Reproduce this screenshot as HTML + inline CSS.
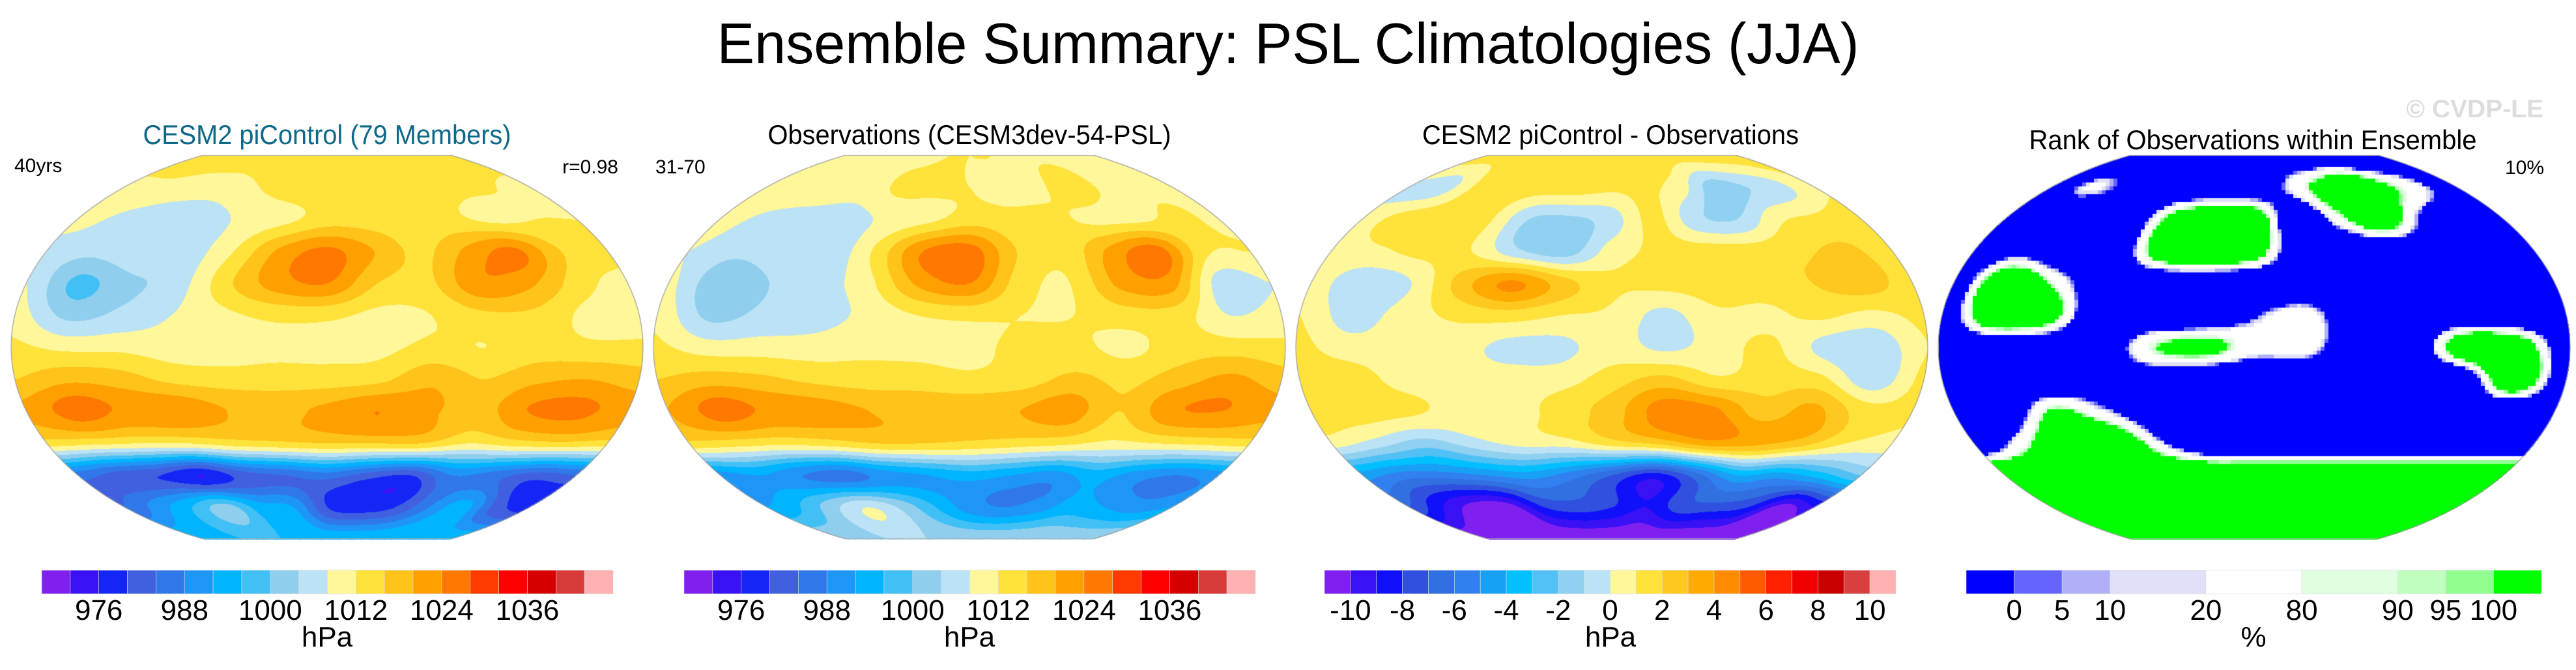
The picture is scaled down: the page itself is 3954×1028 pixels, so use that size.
<!DOCTYPE html>
<html><head><meta charset="utf-8">
<style>
html,body{margin:0;padding:0;background:#fff;}
#wrap{position:relative;width:3954px;height:1028px;overflow:hidden;font-family:"Liberation Sans",Arial,sans-serif;}
canvas,svg{position:absolute;left:0;top:0;}
</style></head>
<body>
<div id="wrap">
<canvas id="maps" width="3954" height="1028"></canvas>
<svg id="ov" width="3954" height="1028" xmlns="http://www.w3.org/2000/svg">
<text x="1977" y="97" text-anchor="middle" font-size="88" textLength="1753" lengthAdjust="spacingAndGlyphs" fill="#000">Ensemble Summary: PSL Climatologies (JJA)</text>
<text x="3904" y="180" text-anchor="end" font-size="39" font-weight="bold" fill="#dddddd">© CVDP-LE</text>
<text x="502" y="221" text-anchor="middle" font-size="42" textLength="565" lengthAdjust="spacingAndGlyphs" fill="#0e6888">CESM2 piControl (79 Members)</text>
<text x="22" y="264" font-size="30" fill="#000">40yrs</text>
<text x="949" y="266" text-anchor="end" font-size="30" fill="#000">r=0.98</text>
<text x="1488" y="221" text-anchor="middle" font-size="42" textLength="619" lengthAdjust="spacingAndGlyphs" fill="#000">Observations (CESM3dev-54-PSL)</text>
<text x="1006" y="266" font-size="30" fill="#000">31-70</text>
<text x="2472" y="221" text-anchor="middle" font-size="42" textLength="578" lengthAdjust="spacingAndGlyphs" fill="#000">CESM2 piControl - Observations</text>
<text x="3458" y="229" text-anchor="middle" font-size="42" textLength="687" lengthAdjust="spacingAndGlyphs" fill="#000">Rank of Observations within Ensemble</text>
<text x="3905" y="267" text-anchor="end" font-size="30" fill="#000">10%</text>
<g id="cbars"></g>
</svg>
</div>
<script>
// ---- data grids (rows: lat 90N..90S every 15deg; cols: 30E eastward every 30deg) ----
const modelGrid = [
[1014,1014,1014,1014,1014,1014,1014,1014,1014,1014,1014,1014,1014],
[1011,1011,1010,1010,1012,1014,1014,1014,1013,1014,1013,1012,1011],
[1010,1007,1006,1006,1009,1011,1014,1014,1013,1013,1011,1012,1012],
[1006,1005,1007,1006,1012,1021,1025,1020,1015,1021,1025,1016,1014],
[1008,999,1003,1006,1015,1022,1024,1016,1015,1023,1021,1014,1010],
[1010,1003,1005,1008,1011,1013,1013,1011,1012,1015,1015,1011,1010],
[1013,1011,1011,1010,1010,1011,1011,1011,1013,1012,1014,1013,1013],
[1016,1019,1018,1015,1014,1014,1014,1015,1019,1016,1019,1020,1018],
[1021,1026,1023,1023,1020,1019,1021,1024,1021,1018,1024,1025,1022],
[1014,1013,1012,1012,1014,1015,1016,1016,1016,1012,1014,1015,1014],
[986,982,980,976,982,984,986,982,980,988,986,982,984],
[984,990,996,1002,994,992,980,978,980,988,994,982,978],
[996,996,996,996,996,996,996,996,996,996,996,996,996]
];
const obsGrid = [
[1011,1011,1011,1011,1011,1012,1012,1012,1011,1011,1011,1011,1011],
[1011,1011,1011,1010,1013,1013,1012,1011,1011,1015,1011,1011,1011],
[1010,1007,1006,1006,1009,1011,1014,1013,1013,1011,1011,1013,1011],
[1008,1005,1006,1005,1013,1024,1026,1016,1013,1021,1026,1013,1012],
[1009,1001,1004,1006,1011,1021,1024,1014,1012,1021,1022,1006,1008],
[1011,1003,1005,1006,1009,1012,1013,1012,1012,1014,1014,1008,1010],
[1013,1010,1010,1010,1011,1011,1011,1013,1013,1011,1014,1014,1013],
[1016,1018,1017,1015,1014,1014,1013,1014,1017,1015,1018,1021,1018],
[1020,1026,1023,1022,1020,1019,1019,1020,1022,1016,1023,1024,1021],
[1015,1014,1013,1014,1016,1016,1015,1014,1013,1011,1012,1013,1014],
[990,992,988,986,990,992,994,992,990,994,990,988,990],
[992,996,1003,1008,1003,996,990,988,990,994,992,990,992],
[1004,1004,1004,1004,1004,1004,1004,1004,1004,1004,1004,1004,1004]
];
const diffGrid = [
[1.5,1.5,1.5,1.5,1.5,1.5,1.5,1.5,1.5,1.5,1.5,1.5,1.5],
[-0.3,-0.5,1.2,1.5,1.5,1.5,1.2,1.2,0.5,-1.5,-1,-0.3,0.8],
[0.5,1.5,1.5,1.2,-1,-1.2,-0.5,1.3,-0.7,-1,0.8,1.3,1.8],
[0.5,0.8,1.3,1.0,-0.8,-1.5,0.5,1.2,1.5,1.5,1.8,2.2,1.5],
[0.5,-0.7,0,2.5,4.2,2.5,1.2,1.3,1.5,1.5,2.0,2.5,1.5],
[1,-0.5,0.5,1.2,1.5,1.0,0.8,-0.3,0.8,0.8,1.2,0.7,1.3],
[1.3,0.5,0.5,0.5,-0.3,-0.3,0.5,-0.2,0.5,1.2,-0.3,-0.8,1.0],
[1.3,1.5,0.6,0.5,0.5,0.6,1.5,2.3,1.2,1.5,1.3,-0.7,1.3],
[1.3,1.5,1.2,0.5,0.5,1.5,2.5,4.5,4.3,2.5,3.3,1.5,1.2],
[0.5,-0.5,-1.5,-0.5,0.3,0.5,1.5,2.2,3.5,3.3,2.5,1.0,0.5],
[-4.5,-5.5,-5.5,-5,-4.5,-5.5,-7,-8.5,-6.5,-4,-4.5,-3.5,-2],
[-7,-9,-10.5,-10.5,-8,-7.5,-8,-9,-7.5,-7.5,-8,-10.5,-9],
[-11,-11,-11,-11,-11,-11,-11,-11,-11,-11,-11,-11,-11]
];
const rankGrid = [
[-5,-5,-5,-5,-5,-5,-5,-5,-5,-5,-5,-5,-5],
[-5,40,30,-5,-5,-5,-5,40,80,110,70,40,-5],
[-5,-5,-5,-5,80,110,100,-5,50,100,30,-5,-5],
[-5,20,-5,-5,90,110,90,-5,-5,-5,-5,-5,-5],
[-5,110,60,-5,-5,-5,-5,-5,-5,-5,-5,-5,-5],
[-5,110,90,-5,-5,-5,30,50,-5,-5,-5,-5,-5],
[-5,-5,-5,-5,60,80,50,50,-5,-5,100,100,-5],
[-5,-5,-5,10,8,-5,-5,-5,-5,-5,-5,110,-5],
[-5,-5,70,40,5,-5,-5,-5,-5,-5,-5,-5,-5],
[-5,50,110,110,40,-5,-5,-5,-5,-5,-5,-5,-5],
[110,110,110,110,110,110,110,110,110,110,110,110,110],
[110,110,110,110,110,110,110,110,110,110,110,110,110],
[110,110,110,110,110,110,110,110,110,110,110,110,110]
];
// ---- colour scales / tick labels ----
const pslColors = ["#8020ee","#3a10f5","#1525f5","#4060e0","#3078ea","#1e96f8","#00b4ff","#40c0f5","#90ceee","#bce2f5","#fff799","#ffe23a","#ffc31a","#ffa000","#ff7800","#ff3a00","#ff0000","#d60000","#d83a3a","#ffb0b0"];
const pslLabels = [976,988,1000,1012,1024,1036];
const diffColors = ["#8020f0","#3a10f5","#1010fa","#3050e0","#3070e0","#3080f0","#18a0f5","#00c0ff","#50c0f5","#90d0f0","#bce2f5","#fff799","#ffe23a","#ffc81e","#ffaa00","#ff8c00","#ff5a00","#ff2000","#f00000","#c80000","#d84040","#ffb0b0"];
const diffLabels = [-10,-8,-6,-4,-2,0,2,4,6,8,10];
const rankColors = ["#0000ff","#6464ff","#b0b0f8","#e0e0f8","#ffffff","#e0ffe0","#c0ffc0","#90ff90","#00ff00"];
const rankLabels = [0,5,10,20,80,90,95,100];
const rankBoxUnits = [1,1,1,2,2,2,1,1,1];

function pslIndex(v){return Math.max(0,Math.min(19,Math.floor((v-972)/4)+1));}
function diffIndex(v){return Math.max(0,Math.min(21,Math.floor(v+10)+1));}
function rankIndex(v){v=50+(v-50)*3;let i=0;for(const b of rankLabels){if(v>=b)i++;}return i;}

function hex(c){return [parseInt(c.substr(1,2),16),parseInt(c.substr(3,2),16),parseInt(c.substr(5,2),16)];}
function cr(p0,p1,p2,p3,t){return 0.5*((2*p1)+(-p0+p2)*t+(2*p0-5*p1+4*p2-p3)*t*t+(-p0+3*p1-3*p2+p3)*t*t*t);}
function sample(g,gx,gy){
  const n=12;const ix=Math.min(n-1,Math.floor(gx)),iy=Math.min(n-1,Math.floor(gy));
  const tx=gx-ix,ty=gy-iy;const rows=[];
  for(let j=-1;j<=2;j++){const r=g[Math.max(0,Math.min(n,iy+j))];
    const c=k=>r[Math.max(0,Math.min(n,ix+k))];
    rows.push(cr(c(-1),c(0),c(1),c(2),tx));}
  return cr(rows[0],rows[1],rows[2],rows[3],ty);
}
const cv=document.getElementById('maps');const ctx=cv.getContext('2d');
const img=ctx.createImageData(3954,1028);const D=img.data;
const panels=[
 {g:modelGrid,cols:pslColors.map(hex),idx:pslIndex,pix:1},
 {g:obsGrid,cols:pslColors.map(hex),idx:pslIndex,pix:1},
 {g:diffGrid,cols:diffColors.map(hex),idx:diffIndex,pix:1},
 {g:rankGrid,cols:rankColors.map(hex),idx:rankIndex,pix:6}
];
const CY=532.5,RX=485,RY=320,TOP=238,BOT=827;
panels.forEach((p,k)=>{
  const cx=502+986*k;
  for(let y=TOP;y<=BOT;y++){
    const dy=y-CY;const hw=RX*Math.sqrt(Math.max(0,1-(dy/RY)*(dy/RY)));
    for(let x=Math.ceil(cx-hw);x<=Math.floor(cx+hw);x++){
      let sx=x,sy=y;
      if(p.pix>1){sx=Math.floor((x-cx)/p.pix)*p.pix+cx+p.pix/2;sy=Math.floor((y-TOP)/p.pix)*p.pix+TOP+p.pix/2;}
      const sdy=Math.min(BOT,Math.max(TOP,sy))-CY;
      const shw=RX*Math.sqrt(Math.max(0.01,1-(sdy/RY)*(sdy/RY)));
      const u=Math.max(0,Math.min(1,(sx-cx)/(2*shw)+0.5));
      const v=Math.max(0,Math.min(1,(sy-TOP)/(BOT-TOP)));
      const val=sample(p.g,u*12,v*12);
      const c=p.cols[p.idx(val)];const o=(y*3954+x)*4;
      D[o]=c[0];D[o+1]=c[1];D[o+2]=c[2];D[o+3]=255;
    }
  }
});
ctx.putImageData(img,0,0);
for(let k=0;k<4;k++){
  const cx=502+986*k;
  ctx.save();ctx.beginPath();ctx.rect(cx-RX-2,TOP,2*RX+4,BOT-TOP);ctx.clip();
  ctx.beginPath();ctx.ellipse(cx,CY,RX,RY,0,0,Math.PI*2);ctx.strokeStyle="#999";ctx.lineWidth=1.2;ctx.stroke();ctx.restore();
  const hwt=RX*Math.sqrt(1-((TOP-CY)/RY)**2);
  ctx.beginPath();ctx.moveTo(cx-hwt,TOP+0.5);ctx.lineTo(cx+hwt,TOP+0.5);ctx.moveTo(cx-hwt,BOT-0.5);ctx.lineTo(cx+hwt,BOT-0.5);ctx.strokeStyle="#aaa";ctx.stroke();
}
// ---- colour bars ----
const NS="http://www.w3.org/2000/svg";const gb=document.getElementById('cbars');
function mk(tag,at){const e=document.createElementNS(NS,tag);for(const a in at)e.setAttribute(a,at[a]);gb.appendChild(e);return e;}
function drawBar(x0,width,colors,units,labels,labelPos,unitText,cx){
  const total=units.reduce((a,b)=>a+b,0);let x=x0;const edges=[x0];
  colors.forEach((c,i)=>{const w=width*units[i]/total;
    const r=mk('rect',{x:x,y:875,width:w,height:36,fill:c,stroke:"#dddddd","stroke-width":0.6});
    
    
    x+=w;edges.push(x);});
  labels.forEach((l,i)=>{const t=mk('text',{x:edges[labelPos(l,i)],y:951,"text-anchor":"middle","font-size":44,fill:"#000"});
    t.textContent=String(l);
    
    });
  const u=mk('text',{x:cx,y:992,"text-anchor":"middle","font-size":44,fill:"#000"});u.textContent=unitText;
  
  
}
drawBar(64,877,pslColors,pslColors.map(()=>1),pslLabels,l=>(l-972)/4+1,"hPa",502);
drawBar(1050,877,pslColors,pslColors.map(()=>1),pslLabels,l=>(l-972)/4+1,"hPa",1488);
drawBar(2033,877,diffColors,diffColors.map(()=>1),diffLabels,l=>l+11,"hPa",2472);
drawBar(3018,883,rankColors,rankBoxUnits,rankLabels,(l,i)=>i+1,"%",3459);
</script>
</body></html>
